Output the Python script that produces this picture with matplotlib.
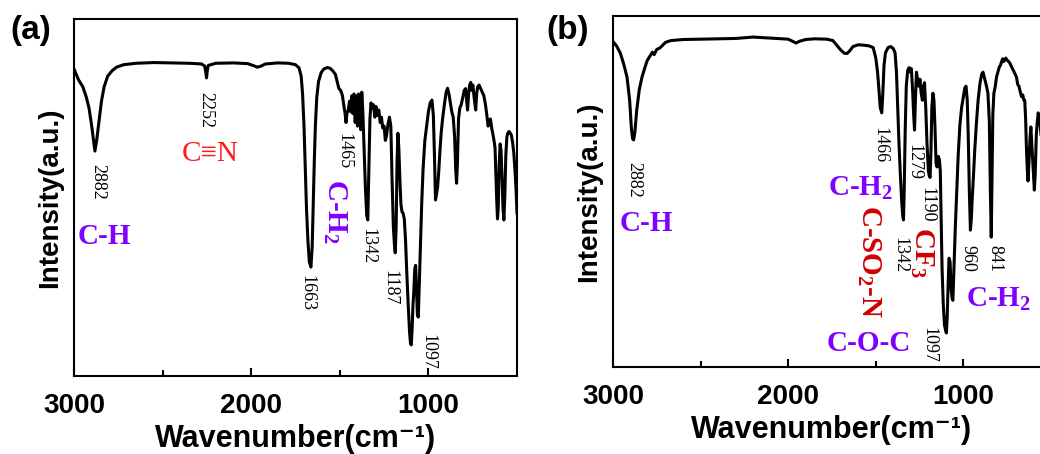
import matplotlib.pyplot as plt

# FTIR spectra, wavenumber (cm-1) vs transmittance (a.u., 0-100 scale)
wn_a = [3000, 2975, 2950, 2930, 2915, 2900, 2890, 2882, 2872, 2860, 2845, 2830, 2810, 2785, 2760,
        2720, 2650, 2550, 2450, 2350, 2280, 2262, 2256, 2252, 2248, 2242, 2200, 2100, 2020, 1985,
        1965, 1945, 1920, 1850, 1790, 1750, 1730, 1718, 1710, 1702, 1695, 1688, 1680, 1672, 1663,
        1656, 1650, 1644, 1638, 1630, 1620, 1605, 1590, 1570, 1555, 1540, 1525, 1515, 1505, 1495,
        1485, 1478, 1470, 1465, 1460, 1452, 1445, 1438, 1432, 1426, 1420, 1413, 1407, 1400, 1394,
        1388, 1382, 1376, 1370, 1362, 1355, 1348, 1342, 1336, 1330, 1324, 1316, 1310, 1302, 1296,
        1288, 1280, 1272, 1265, 1258, 1250, 1243, 1236, 1228, 1220, 1212, 1205, 1198, 1192, 1187,
        1182, 1177, 1172, 1167, 1161, 1155, 1149, 1142, 1136, 1129, 1122, 1114, 1106, 1101, 1097,
        1092, 1087, 1082, 1077, 1072, 1067, 1062, 1057, 1052, 1046, 1038, 1030, 1020, 1010, 1000,
        990, 980, 972, 966, 960, 954, 948, 942, 935, 928, 920, 910, 900, 892, 884,
        876, 868, 860, 852, 846, 841, 836, 830, 823, 815, 806, 798, 790, 784, 779,
        773, 767, 761, 755, 749, 742, 737, 733, 728, 722, 714, 705, 696, 687, 678,
        670, 663, 657, 650, 643, 637, 630, 624, 620, 615, 610, 606, 600, 595, 590,
        584, 579, 574, 569, 563, 557, 552, 545, 538, 532, 525, 518, 512, 506, 500]
t_a = [86, 83, 81, 78, 75, 70, 66, 63, 66, 71, 77, 81, 84, 85.5, 86.5,
       87.2, 87.6, 87.8, 87.7, 87.6, 87.4, 86.8, 85, 83.5, 85.5, 87, 87.6, 87.7, 87.5, 86.9,
       86.5, 86.8, 87.4, 87.7, 87.6, 87.2, 86.3, 84, 79, 70, 58, 47, 38, 32, 30.5,
       36, 48, 60, 70, 78, 82.5, 85, 86, 86.4, 86.2, 85.5, 84.5, 82.5, 80.5, 80,
       78.5, 76, 73.5, 71, 73.5, 74.5, 77, 74, 78.5, 73.5, 79, 71, 78.5, 70, 79,
       78, 69, 79.5, 74, 62, 52, 45, 43.7, 58, 72, 76.5, 75, 76, 72.5, 75.5,
       73, 74.5, 71, 72.5, 69.5, 70, 66, 67.5, 70.5, 72.5, 70, 55, 42, 37, 34.5,
       42, 60, 68, 64, 55, 48, 46, 45.5, 44, 38, 29, 20, 12, 9.2, 8.7,
       13, 20, 24, 30, 31, 24, 17, 16.5, 25, 36, 48, 58, 66, 70, 74,
       76.5, 77.3, 73, 62, 49.3, 51, 53, 57, 63, 68, 72, 76, 79.5, 80.6, 79,
       76.5, 74, 72.5, 67, 58, 54, 60, 72, 75, 76, 78, 80, 80.5, 77, 74.5,
       79, 81.5, 82.2, 80, 81.5, 78, 76, 74.5, 79, 81, 81.5, 80.5, 79.5, 78.5, 76,
       73, 70, 71, 72, 69.5, 68, 66, 64, 58, 50, 44, 47, 60, 65, 63,
       55, 47, 43.7, 50, 62, 67, 68, 68.5, 68, 67.5, 65.5, 62.5, 58, 53, 45.7]

wn_b = [3000, 2980, 2958, 2940, 2920, 2905, 2895, 2888, 2882, 2875, 2865, 2850, 2835, 2820, 2805,
        2790, 2775, 2765, 2750, 2735, 2720, 2700, 2670, 2600, 2500, 2400, 2300, 2200, 2100, 2000,
        1975, 1955, 1935, 1900, 1850, 1780, 1745, 1720, 1700, 1680, 1665, 1650, 1630, 1600, 1570,
        1540, 1515, 1500, 1490, 1482, 1475, 1466, 1460, 1453, 1445, 1430, 1415, 1400, 1390, 1382,
        1375, 1368, 1360, 1352, 1346, 1342, 1338, 1332, 1326, 1318, 1310, 1303, 1297, 1290, 1284,
        1279, 1274, 1268, 1262, 1255, 1248, 1241, 1234, 1228, 1222, 1215, 1208, 1200, 1195, 1190,
        1185, 1180, 1174, 1168, 1162, 1156, 1150, 1143, 1137, 1132, 1127, 1122, 1115, 1108, 1102,
        1097, 1092, 1087, 1082, 1076, 1070, 1064, 1060, 1054, 1046, 1038, 1030, 1020, 1010, 1000,
        992, 985, 978, 972, 966, 960, 955, 950, 943, 935, 925, 916, 905, 895, 888,
        878, 868, 860, 852, 846, 841, 837, 832, 826, 818, 811, 803, 795, 788, 782,
        776, 770, 764, 758, 752, 745, 735, 725, 715, 705, 697, 690, 683, 676, 668,
        661, 655, 650, 645, 640, 635, 631, 626, 620, 615, 608, 600, 595, 590, 584,
        578, 573, 566, 560, 550, 540, 525, 510, 500]
t_b = [92.7, 91.5, 89.4, 86.5, 82.6, 76, 68, 65, 64.7, 67, 73, 79, 82.5, 85, 87.3,
       88.5, 89.7, 89, 90.5, 90.8, 91.5, 92.5, 93, 93.3, 93.4, 93.5, 93.6, 94, 93.7, 93.4,
       92.8, 92.3, 92.8, 93.3, 93.5, 93.4, 93, 91.5, 90.3, 89.4, 89.3, 90, 91.3, 91.8, 91.7,
       91.5, 91, 88, 84, 79, 74, 72.4, 78, 86, 89.5, 91, 91.3, 90.7, 89.5, 84,
       74, 64, 55, 47, 43, 41.9, 50, 68, 80, 84.5, 85.3, 84, 85, 79, 72,
       67.5, 76, 84, 82, 80, 82, 78, 76, 80, 81, 74, 64, 56, 54.5, 54,
       62, 74, 78, 76, 68, 58, 57, 60, 59, 56, 42, 28.5, 18, 12, 10.5,
       9.7, 15, 24, 31, 30, 22, 19.5, 19, 28, 40, 50, 60, 69, 74, 77,
       79.5, 80, 76, 65, 50, 39, 42, 47.6, 54, 62, 70, 76, 81, 83.5, 84,
       82, 80, 78, 70, 50, 37, 52, 72, 78, 80, 82.6, 84, 85.5, 86, 87,
       87.8, 87, 87.5, 88, 87.5, 87.2, 86.6, 85.5, 84.5, 83.5, 82.6, 80.5, 80, 78.5, 77,
       77.5, 76, 76, 71, 62, 56, 53, 58, 65, 68.4, 62, 55, 50.4, 55, 66,
       70, 72.4, 71, 68, 62, 64, 70, 68, 64]

# peak labels: (text, wavenumber, y, color, size, bold, rotation)
labels_a = [("2882", 2864, 54.3, "black", 13, False, -90),
            ("2252", 2256, 74.5, "black", 13, False, -90),
            ("C\u2261N", 2233, 62.2, "#ff1a1a", 21, False, 0),
            ("C-H", 2830, 39.2, "#8000ff", 21, True, 0),
            ("1465", 1477, 63.0, "black", 13, False, -90),
            ("C-H$_2$", 1528, 46.2, "#8000ff", 21, True, -90),
            ("1663", 1687, 23.2, "black", 13, False, -90),
            ("1342", 1341, 36.4, "black", 13, False, -90),
            ("1187", 1216, 24.6, "black", 13, False, -90),
            ("1097", 1000, 6.7, "black", 13, False, -90)]
labels_b = [("2882", 2884, 53.3, "black", 13, False, -90),
            ("C-H", 2810, 41.0, "#8000ff", 21, True, 0),
            ("1466", 1475, 63.2, "black", 13, False, -90),
            ("C-H$_2$", 1589, 51.0, "#8000ff", 21, True, 0),
            ("C-SO$_2$-N", 1543, 30.0, "#d00000", 21, True, -90),
            ("1342", 1361, 31.9, "black", 13, False, -90),
            ("1279", 1281, 58.4, "black", 13, False, -90),
            ("1190", 1207, 46.2, "black", 13, False, -90),
            ("CF$_3$", 1238, 32.8, "#d00000", 21, True, -90),
            ("960", 973, 31.0, "black", 13, False, -90),
            ("841", 819, 31.0, "black", 13, False, -90),
            ("C-H$_2$", 800, 19.4, "#8000ff", 21, True, 0),
            ("C-O-C", 1538, 6.6, "#8000ff", 21, True, 0),
            ("1097", 1195, 6.3, "black", 13, False, -90)]

plt.rcParams['mathtext.fontset'] = 'custom'
plt.rcParams['mathtext.rm'] = 'Liberation Serif:bold'
plt.rcParams['mathtext.default'] = 'rm'

fig = plt.figure(figsize=(10.4, 4.54), dpi=100)
ax_a = fig.add_axes([74 / 1040, 1 - 376 / 454, 443 / 1040, 357 / 454])
ax_b = fig.add_axes([613 / 1040, 1 - 367 / 454, 438 / 1040, 351 / 454])


def draw_panel(ax, wn, t, labels):
    ax.plot(wn, t, color='black', lw=2.2)
    ax.set_xlim(3000, 500)
    ax.set_ylim(0, 100)
    ax.set_yticks([])
    ax.set_xticks([3000, 2000, 1000])
    ax.set_xticks([2500, 1500], minor=True)
    ax.tick_params(axis='x', which='both', direction='in', width=1.5, pad=12,
                   labelsize=20)
    ax.tick_params(axis='x', which='major', length=6)
    ax.tick_params(axis='x', which='minor', length=4)
    for lab in ax.get_xticklabels():
        lab.set_fontfamily('Liberation Sans')
        lab.set_fontweight('bold')
    for sp in ax.spines.values():
        sp.set_linewidth(1.5)
    ax.set_xlabel("Wavenumber(cm\u207b\u00b9)", family=['Liberation Sans', 'DejaVu Sans'],
                  fontweight='bold', fontsize=22, labelpad=4)
    ax.set_ylabel("Intensity(a.u.)", family='Liberation Sans', fontweight='bold',
                  fontsize=20, labelpad=8)
    for txt, x, y, c, fs, bold, rot in labels:
        ax.text(x, y, txt, color=c, fontsize=fs, rotation=rot,
                family=['Liberation Serif', 'DejaVu Serif'],
                fontweight='bold' if bold else 'normal', ha='center', va='center')


draw_panel(ax_a, wn_a, t_a, labels_a)
draw_panel(ax_b, wn_b, t_b, labels_b)

# panel tags
fig.text(31 / 1040, 1 - 30 / 454, "(a)", family='Liberation Sans', fontweight='bold',
         fontsize=24, ha='center', va='center')
fig.text(568 / 1040, 1 - 30 / 454, "(b)", family='Liberation Sans', fontweight='bold',
         fontsize=24, ha='center', va='center')

fig.savefig('out.png', dpi=100)
